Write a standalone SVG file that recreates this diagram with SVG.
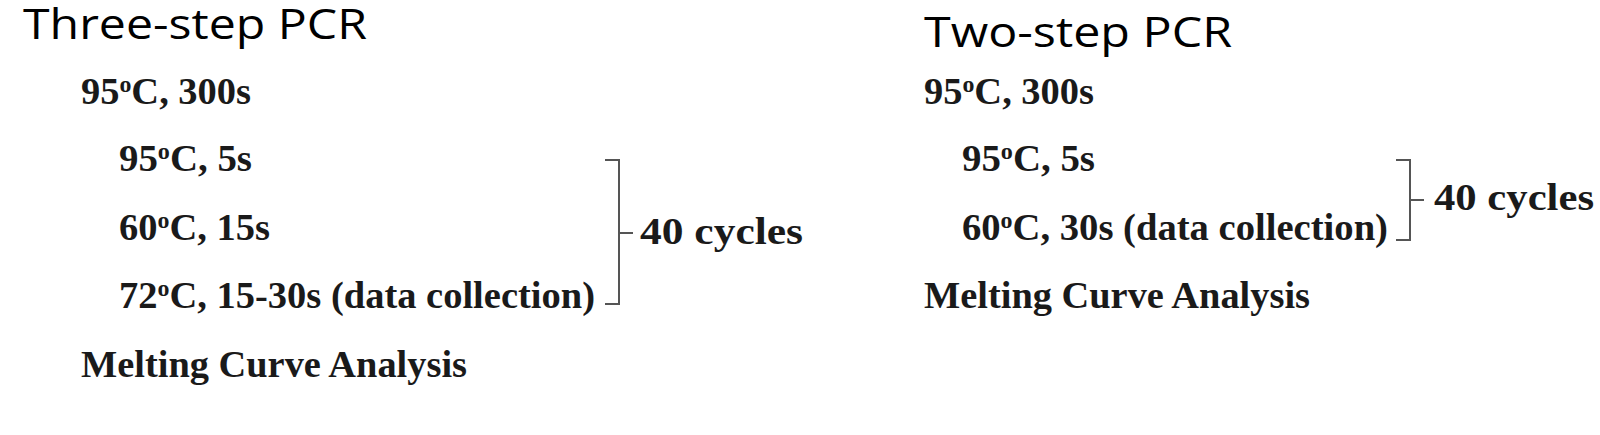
<svg xmlns="http://www.w3.org/2000/svg" width="1600" height="435" viewBox="0 0 1600 435">
<style>
.title{font-family:"Open Sans","Noto Sans",sans-serif;font-size:42px;fill:#000}
.step{font-family:"Liberation Serif","Times New Roman",serif;font-weight:bold;font-size:37px;fill:#1a1a1a}
.sup{font-size:23px;baseline-shift:super}
.br{fill:none;stroke:#555;stroke-width:2}
</style>
<rect width="1600" height="435" fill="#fff"/>
<g id="three-step">
<text class="title" x="23" y="39" textLength="344" lengthAdjust="spacingAndGlyphs">Three-step PCR</text>
<text id="t-init" class="step" x="81" y="104" textLength="170" lengthAdjust="spacingAndGlyphs">95<tspan class="sup">o</tspan>C, 300s</text>
<text id="t-den" class="step" x="119" y="171" textLength="133" lengthAdjust="spacingAndGlyphs">95<tspan class="sup">o</tspan>C, 5s</text>
<text id="t-ann" class="step" x="119" y="240" textLength="151" lengthAdjust="spacingAndGlyphs">60<tspan class="sup">o</tspan>C, 15s</text>
<text id="t-ext" class="step" x="119" y="308" textLength="476" lengthAdjust="spacingAndGlyphs">72<tspan class="sup">o</tspan>C, 15-30s (data collection)</text>
<text id="t-melt" class="step" x="81" y="377" textLength="386" lengthAdjust="spacingAndGlyphs">Melting Curve Analysis</text>
<text id="t-cyc" class="step" x="640" y="244" textLength="163" lengthAdjust="spacingAndGlyphs">40 cycles</text>
</g>
<g id="two-step">
<text class="title" x="924" y="47" textLength="308" lengthAdjust="spacingAndGlyphs">Two-step PCR</text>
<text id="w-init" class="step" x="924" y="104" textLength="170" lengthAdjust="spacingAndGlyphs">95<tspan class="sup">o</tspan>C, 300s</text>
<text id="w-den" class="step" x="962" y="171" textLength="133" lengthAdjust="spacingAndGlyphs">95<tspan class="sup">o</tspan>C, 5s</text>
<text id="w-ann" class="step" x="962" y="240" textLength="426" lengthAdjust="spacingAndGlyphs">60<tspan class="sup">o</tspan>C, 30s (data collection)</text>
<text id="w-melt" class="step" x="924" y="308" textLength="386" lengthAdjust="spacingAndGlyphs">Melting Curve Analysis</text>
<text id="w-cyc" class="step" x="1434" y="210" textLength="160" lengthAdjust="spacingAndGlyphs">40 cycles</text>
</g>
<g id="connectors">
<path class="br" d="M605,160 H619 V304 H605 M619,233 H633"/>
<path class="br" d="M1396,160 H1410 V240 H1396 M1410,200 H1424"/>
</g>
</svg>
